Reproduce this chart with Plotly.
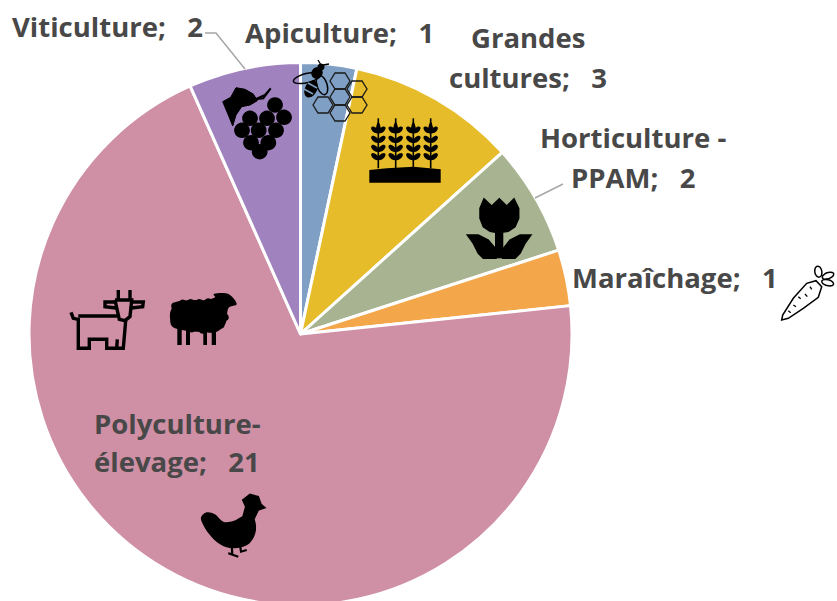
import math
import plotly.graph_objects as go

# ---- data ----
categories = ["Apiculture", "Grandes cultures", "Horticulture - PPAM", "Maraîchage", "Polyculture-élevage", "Viticulture"]
values = [1, 3, 2, 1, 21, 2]
colors = ["#7F9FC4", "#E6BC2A", "#A8B491", "#F4A64A", "#CF8FA5", "#A082BF"]
label_lines = [
    [("Apiculture;\u00a0\u00a0 1", 339, 32)],
    [("Grandes", 528, 37), ("cultures;\u00a0\u00a0 3", 528, 77)],
    [("Horticulture -", 633, 137), ("PPAM;\u00a0\u00a0 2", 633, 177)],
    [("Maraîchage;\u00a0\u00a0 1", 675, 277)],
    [("Polyculture-", 177, 423), ("élevage;\u00a0\u00a0 21", 177, 461)],
    [("Viticulture;\u00a0\u00a0 2", 107, 26)],
]

W, H = 837, 606
CX, CY, R = 300.5, 334, 271.5
INK = "#000000"
TEXT = "#484848"
shapes = []


def poly(pts, smooth=False, close=True):
    if not smooth:
        d = "M" + " L".join(f"{x:.1f},{y:.1f}" for x, y in pts)
        return d + (" Z" if close else "")
    n = len(pts)
    d = f"M{pts[0][0]:.1f},{pts[0][1]:.1f}"
    for i in range(n):
        p0, p1, p2, p3 = pts[i - 1], pts[i], pts[(i + 1) % n], pts[(i + 2) % n]
        c1 = (p1[0] + (p2[0] - p0[0]) / 6, p1[1] + (p2[1] - p0[1]) / 6)
        c2 = (p2[0] - (p3[0] - p1[0]) / 6, p2[1] - (p3[1] - p1[1]) / 6)
        d += f" C{c1[0]:.1f},{c1[1]:.1f} {c2[0]:.1f},{c2[1]:.1f} {p2[0]:.1f},{p2[1]:.1f}"
    return d + " Z"


def conv(pts, ox, oy):
    return [(ox + x / 3, oy + y / 3) for x, y in pts]


def add(path, fill=INK, line=None, width=0):
    shapes.append(dict(type="path", path=path, xref="x", yref="y", fillcolor=fill,
                       line=dict(color=line or "rgba(0,0,0,0)", width=width), layer="above"))


def ellipse(cx, cy, a, b, deg=0, fill=INK, line=None, width=0):
    t = math.radians(deg)
    pts = []
    for i in range(12):
        u = 2 * math.pi * i / 12
        x, y = a * math.cos(u), b * math.sin(u)
        pts.append((cx + x * math.cos(t) - y * math.sin(t), cy + x * math.sin(t) + y * math.cos(t)))
    add(poly(pts, smooth=True), fill, line, width)


def stroke(pts, width=2.0, color=INK):
    add(poly(pts, close=False), "rgba(0,0,0,0)", color, width)


# leader lines
stroke([(205, 33), (216, 33), (245, 69)], 1.5, "#A6A6A6")
stroke([(535, 198), (563, 184)], 1.5, "#A6A6A6")

# grapes
GX, GY = 200, 50
for c in [(225, 165), (252, 202), (150, 205), (201, 205), (126, 241), (176, 241), (228, 241), (153, 278), (205, 278), (179, 305)]:
    ellipse(GX + c[0] / 3, GY + c[1] / 3, 7.9, 7.7)
add(poly(conv([(68, 155), (92, 142), (108, 113), (135, 118), (160, 132), (172, 152), (150, 165), (125, 170), (108, 195), (98, 228), (85, 195)], GX, GY)), INK, INK, 1)
stroke(conv([(165, 148), (195, 135), (212, 115), (190, 145), (165, 148)], GX, GY), 2)

# honeycomb
for c in [(340, 81), (340, 97), (340, 113), (323, 105), (357, 89), (357, 105)]:
    cx, cy = c
    hexa = [(cx - 10, cy), (cx - 5, cy - 8), (cx + 5, cy - 8), (cx + 10, cy), (cx + 5, cy + 8), (cx - 5, cy + 8)]
    add(poly(hexa), "rgba(0,0,0,0)", "#1a1a1a", 1.3)

# bee
ellipse(307, 78, 14, 4.5, -14, "rgba(255,255,255,0)", INK, 1.5)
ellipse(322, 85, 5, 10, -18, "rgba(255,255,255,0)", INK, 1.5)
ellipse(311, 89, 9, 6, -62, INK)
ellipse(317, 73, 6, 5.5, -50, INK)
ellipse(321, 67, 3.5, 3.5, 0, INK)
stroke([(321, 65), (318, 60)], 1.3)
stroke([(323, 65), (329, 64)], 1.3)
stroke([(304, 89), (313, 94)], 1.5, "#7F9FC4")
stroke([(308, 83), (317, 88)], 1.5, "#7F9FC4")

# wheat
WX, WY = 200, 50
add(poly(conv([(508, 360), (560, 355), (640, 350), (722, 358), (722, 398), (508, 398)], WX, WY)))
for sx in [535, 587, 640, 692]:
    stroke(conv([(sx, 205), (sx, 355)], WX, WY), 1.6)
    add(poly(conv([(sx - 7, 235), (sx, 215), (sx + 7, 235), (sx, 250)], WX, WY), smooth=True))
    for ly in [240, 268, 295, 320]:
        ellipse(WX + (sx - 10) / 3, WY + ly / 3, 4.6, 2.5, 40)
        ellipse(WX + (sx + 10) / 3, WY + ly / 3, 4.6, 2.5, -40)

# tulip
TX, TY = 460, 190
add(poly(conv([(60, 55), (72, 26), (95, 48), (118, 26), (140, 48), (162, 26), (176, 55), (176, 85), (165, 110), (145, 124), (115, 128), (90, 124), (70, 110), (60, 85)], TX, TY)), INK, INK, 1.5)
add(poly(conv([(105, 115), (130, 115), (130, 205), (105, 205)], TX, TY)))
add(poly(conv([(22, 135), (55, 135), (85, 150), (108, 178), (108, 205), (70, 205), (55, 190), (40, 160)], TX, TY)), INK, INK, 1.5)
add(poly(conv([(213, 135), (180, 135), (150, 150), (128, 178), (128, 205), (165, 205), (180, 190), (195, 160)], TX, TY)), INK, INK, 1.5)

# carrot
add(poly(conv([(965, 390), (968, 375), (1000, 325), (1040, 280), (1068, 272), (1085, 290), (1075, 322), (1030, 355), (985, 385)], TX, TY)), "#FFFFFF", INK, 1.5)
ellipse(TX + 1075 / 3, TY + 245 / 3, 5.5, 3.5, 80, "#FFFFFF", INK, 1.5)
ellipse(TX + 1104 / 3, TY + 257 / 3, 6, 3, -20, "#FFFFFF", INK, 1.5)
ellipse(TX + 1103 / 3, TY + 278 / 3, 6, 3, 15, "#FFFFFF", INK, 1.5)
for a, b in [((1015, 320), (1022, 326)), ((1035, 312), (1042, 320)), ((1000, 345), (1008, 350)), ((985, 362), (992, 368)), ((1050, 290), (1055, 298))]:
    stroke(conv([a, b], TX, TY), 1.3)

# cow
CWX, CWY = 60, 280
stroke(conv([(33, 97), (40, 115), (55, 118), (55, 205), (88, 205), (88, 178), (140, 178), (140, 205), (190, 205), (197, 122)], CWX, CWY), 3.4)
stroke(conv([(55, 108), (172, 108)], CWX, CWY), 3.4)
stroke(conv([(165, 60), (215, 60), (210, 110), (195, 122), (178, 118), (165, 60)], CWX, CWY), 3.4)
stroke(conv([(168, 66), (135, 66), (135, 80), (168, 84)], CWX, CWY), 3.4)
stroke(conv([(215, 66), (250, 66), (248, 80), (213, 84)], CWX, CWY), 3.4)
stroke(conv([(175, 30), (175, 58)], CWX, CWY), 3.4)
stroke(conv([(210, 30), (210, 58)], CWX, CWY), 3.4)
stroke(conv([(170, 205), (172, 178)], CWX, CWY), 3.4)

# sheep
add(poly(conv([(335, 85), (350, 65), (400, 60), (440, 60), (465, 52), (462, 42), (505, 42), (530, 72), (505, 85), (497, 130), (470, 155), (430, 157), (345, 145), (330, 115)], CWX, CWY), smooth=True))
for c in [(345, 78), (368, 70), (392, 68), (418, 68), (445, 66), (342, 100), (344, 125), (362, 140), (395, 146), (428, 150), (460, 148), (482, 135), (495, 112)]:
    ellipse(CWX + c[0] / 3, CWY + c[1] / 3, 3.8, 3.8)
for a, b in [(352, 365), (378, 390), (430, 441), (455, 468)]:
    add(poly(conv([(a, 140), (b, 140), (b, 195), (a, 195)], CWX, CWY)))

# chicken
HX, HY = 190, 485
add(poly(conv([(33, 97), (50, 82), (75, 88), (100, 110), (130, 108), (162, 93), (192, 100), (197, 140), (175, 178), (130, 190), (90, 178), (58, 148), (40, 120)], HX, HY), smooth=True))
add(poly(conv([(158, 98), (167, 65), (158, 45), (180, 28), (205, 35), (213, 58), (225, 68), (205, 75), (192, 102)], HX, HY)), INK, INK, 1.5)
stroke(conv([(125, 180), (127, 208), (115, 205), (145, 215)], HX, HY), 2.2)
stroke(conv([(150, 180), (153, 200), (170, 195)], HX, HY), 2.2)

annotations = []
for lines in label_lines:
    for text, x, y in lines:
        annotations.append(dict(text=text, x=x, y=y, xref="x", yref="y", showarrow=False,
                                xanchor="center", yanchor="middle",
                                font=dict(family="Open Sans", size=27.5, color=TEXT, weight=700)))

fig = go.Figure(go.Pie(
    labels=categories, values=values, sort=False, direction="clockwise", rotation=0,
    marker=dict(colors=colors, line=dict(color="#FFFFFF", width=3)),
    textinfo="none", hoverinfo="label+value", showlegend=False,
    domain=dict(x=[(CX - R) / W, (CX + R) / W], y=[1 - (CY + R) / H, 1 - (CY - R) / H]),
))
fig.update_layout(
    width=W, height=H, margin=dict(l=0, r=0, t=0, b=0), paper_bgcolor="#FFFFFF", plot_bgcolor="rgba(0,0,0,0)",
    xaxis=dict(range=[0, W], visible=False, fixedrange=True),
    yaxis=dict(range=[H, 0], visible=False, fixedrange=True),
    shapes=shapes, annotations=annotations,
)
fig.write_html("out.html", config={"displayModeBar": False},
               post_script='document.body.style.margin="0";document.documentElement.style.overflow="hidden";document.body.style.overflow="hidden";')
